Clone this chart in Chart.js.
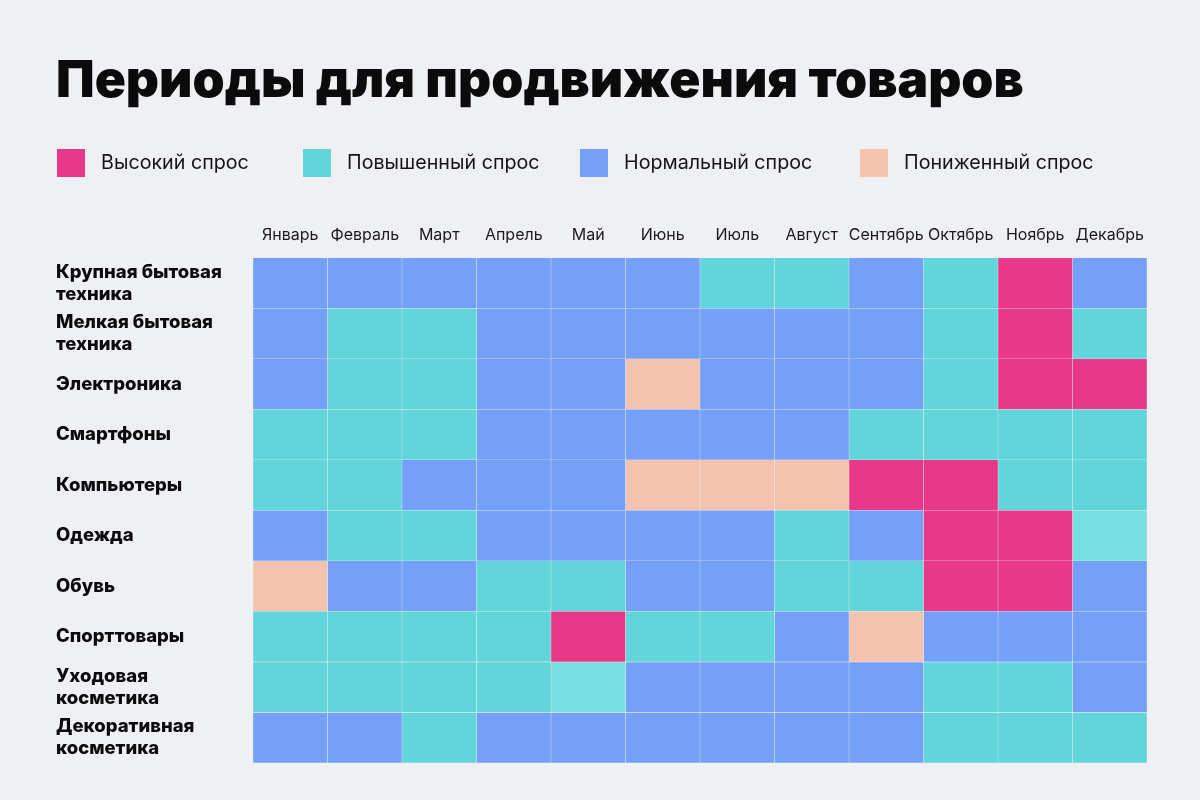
<!DOCTYPE html>
<html><head><meta charset="utf-8">
<script src="https://cdn.jsdelivr.net/npm/chart.js@4/dist/chart.umd.min.js"></script>
<style>html,body{margin:0;padding:0;background:#eff0f4;}canvas{display:block;}</style>
</head><body>
<canvas id="c" width="1200" height="800"></canvas>
<script>
// ---- data ----
const titleText = 'Периоды для продвижения товаров';
const months = ['Январь','Февраль','Март','Апрель','Май','Июнь','Июль','Август','Сентябрь','Октябрь','Ноябрь','Декабрь'];
const products = [
  ['Крупная бытовая','техника'],
  ['Мелкая бытовая','техника'],
  'Электроника',
  'Смартфоны',
  'Компьютеры',
  'Одежда',
  'Обувь',
  'Спорттовары',
  ['Уходовая','косметика'],
  ['Декоративная','косметика']
];
const levelNames = ['Высокий спрос','Повышенный спрос','Нормальный спрос','Пониженный спрос'];
// H = высокий, P = повышенный, N = нормальный, L = пониженный, p = повышенный (светлая ячейка)
const demandRows = [
  'NNNNNNPPNPHN',
  'NPPNNNNNNPHP',
  'NPPNNLNNNPHH',
  'PPPNNNNNPPPP',
  'PPNNNLLLHHPP',
  'NPPNNNNPNHHp',
  'LNNPPNNPPHHN',
  'PPPPHPPNLNNN',
  'PPPPpNNNNPPN',
  'NNPNNNNNNPPP'
];

// ---- styles ----
const levelColors = {H:'#e8388a', P:'#62d5da', N:'#74a1f7', L:'#f4c3af', p:'#76dfe1'};
const legendCodes = ['H','P','N','L'];
const FONT = 'Inter, "Noto Sans", sans-serif';

const datasets = months.map((m, mi) => ({
  label: m,
  data: products.map(() => 1),
  backgroundColor: demandRows.map(r => levelColors[r[mi]]),
  borderColor: 'rgba(255,255,255,0.12)',
  borderWidth: 0.5,
  borderSkipped: false,
  barPercentage: 1,
  categoryPercentage: 1
}));

const customLegend = {
  id: 'customLegend',
  afterDraw(chart, args, opts) {
    const ctx = chart.ctx;
    ctx.save();
    ctx.font = '19.7px ' + FONT;
    ctx.textBaseline = 'middle';
    ctx.textAlign = 'left';
    legendCodes.forEach((code, i) => {
      const x = opts.xs[i];
      ctx.fillStyle = levelColors[code];
      ctx.fillRect(x, opts.y - 14, 28, 28);
      ctx.fillStyle = '#151515';
      ctx.fillText(levelNames[i], x + 44, opts.y);
    });
    ctx.restore();
  }
};

new Chart(document.getElementById('c'), {
  type: 'bar',
  data: { labels: products, datasets },
  plugins: [customLegend],
  options: {
    responsive: false,
    animation: false,
    indexAxis: 'y',
    layout: { padding: { left: 56, right: 53, top: 0, bottom: 37 } },
    plugins: {
      legend: { display: false },
      tooltip: { enabled: false },
      title: {
        display: true, text: titleText, align: 'start', color: '#0b0b0b',
        font: { family: FONT, size: 51.5, weight: 900 },
        padding: { top: 51, bottom: 97 }
      },
      customLegend: { xs: [57, 303, 580, 860], y: 163 }
    },
    scales: {
      x: { type: 'linear', stacked: true, min: 0, max: 12, display: false },
      xTop: {
        type: 'category', labels: months, position: 'top', offset: true,
        grid: { display: false, drawTicks: false }, border: { display: false },
        ticks: { color: '#1a1a1a', font: { family: FONT, size: 16 }, padding: 13, maxRotation: 0, autoSkip: false },
        afterFit(s) { s.height = 48; }
      },
      y: {
        type: 'category', stacked: true,
        grid: { display: false, drawTicks: false }, border: { display: false },
        ticks: { crossAlign: 'far', color: '#0b0b0b', font: { family: FONT, size: 18.5, weight: 800, lineHeight: 1.2 }, autoSkip: false },
        afterFit(s) { s.width = 197; }
      }
    }
  }
});
</script>
</body></html>
